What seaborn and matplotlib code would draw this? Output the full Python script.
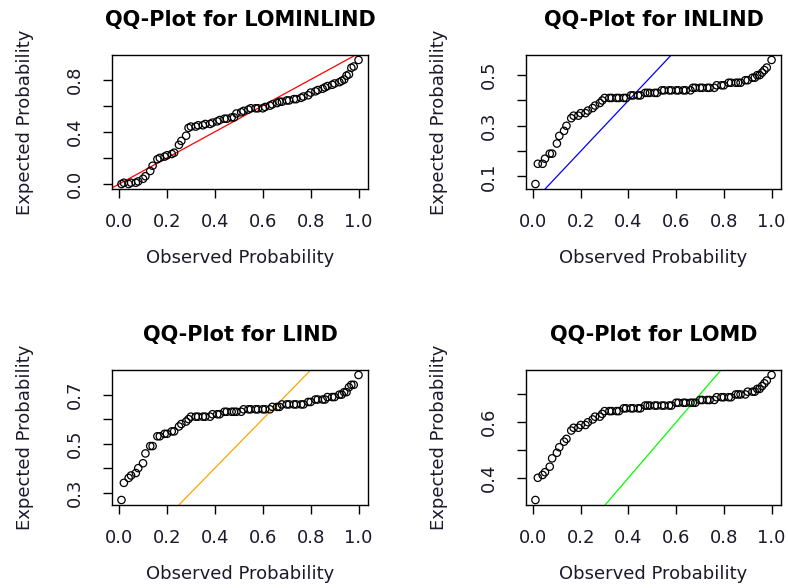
import numpy as np
import matplotlib
matplotlib.use("Agg")
import matplotlib.pyplot as plt
import seaborn as sns

# ── data ──────────────────────────────────────────────────
observed = [0.01, 0.02, 0.04, 0.05, 0.07, 0.08, 0.10, 0.11, 0.13, 0.14,
            0.16, 0.17, 0.19, 0.20, 0.22, 0.23, 0.25, 0.26, 0.28, 0.29,
            0.30, 0.32, 0.33, 0.35, 0.36, 0.38, 0.39, 0.41, 0.42, 0.44,
            0.45, 0.47, 0.48, 0.49, 0.51, 0.52, 0.54, 0.55, 0.57, 0.58,
            0.60, 0.61, 0.63, 0.64, 0.66, 0.67, 0.68, 0.70, 0.71, 0.73,
            0.74, 0.76, 0.77, 0.79, 0.80, 0.82, 0.83, 0.85, 0.86, 0.87,
            0.89, 0.90, 0.92, 0.93, 0.94, 0.95, 0.96, 0.97, 0.98, 1.00]

exp_lominlind = [0.00, 0.01, 0.00, 0.01, 0.01, 0.02, 0.04, 0.06, 0.10, 0.14,
                 0.19, 0.20, 0.21, 0.22, 0.23, 0.24, 0.30, 0.33, 0.37, 0.43,
                 0.44, 0.44, 0.45, 0.45, 0.46, 0.46, 0.47, 0.48, 0.49, 0.50,
                 0.50, 0.51, 0.51, 0.54, 0.55, 0.56, 0.57, 0.58, 0.58, 0.58,
                 0.58, 0.59, 0.60, 0.61, 0.62, 0.63, 0.63, 0.64, 0.64, 0.65,
                 0.65, 0.66, 0.67, 0.68, 0.70, 0.71, 0.72, 0.73, 0.74, 0.75,
                 0.76, 0.77, 0.78, 0.79, 0.80, 0.83, 0.84, 0.89, 0.90, 0.95]

exp_inlind = [0.07, 0.15, 0.15, 0.17, 0.19, 0.19, 0.23, 0.26, 0.28, 0.30,
              0.33, 0.34, 0.34, 0.35, 0.35, 0.36, 0.37, 0.38, 0.39, 0.40,
              0.41, 0.41, 0.41, 0.41, 0.41, 0.41, 0.41, 0.42, 0.42, 0.42,
              0.42, 0.43, 0.43, 0.43, 0.43, 0.43, 0.44, 0.44, 0.44, 0.44,
              0.44, 0.44, 0.44, 0.44, 0.44, 0.45, 0.45, 0.45, 0.45, 0.45,
              0.45, 0.45, 0.46, 0.46, 0.46, 0.47, 0.47, 0.47, 0.47, 0.47,
              0.48, 0.48, 0.49, 0.49, 0.50, 0.50, 0.51, 0.52, 0.53, 0.56]

exp_lind = [0.27, 0.34, 0.36, 0.37, 0.38, 0.40, 0.42, 0.46, 0.49, 0.49,
            0.53, 0.53, 0.54, 0.54, 0.55, 0.55, 0.57, 0.58, 0.59, 0.60,
            0.61, 0.61, 0.61, 0.61, 0.61, 0.61, 0.62, 0.62, 0.62, 0.63,
            0.63, 0.63, 0.63, 0.63, 0.63, 0.64, 0.64, 0.64, 0.64, 0.64,
            0.64, 0.64, 0.64, 0.65, 0.65, 0.65, 0.66, 0.66, 0.66, 0.66,
            0.66, 0.66, 0.66, 0.67, 0.67, 0.68, 0.68, 0.68, 0.68, 0.69,
            0.69, 0.69, 0.70, 0.70, 0.71, 0.71, 0.73, 0.74, 0.74, 0.78]

exp_lomd = [0.32, 0.40, 0.41, 0.42, 0.44, 0.47, 0.49, 0.51, 0.53, 0.54,
            0.57, 0.58, 0.58, 0.59, 0.59, 0.60, 0.61, 0.62, 0.62, 0.63,
            0.64, 0.64, 0.64, 0.64, 0.64, 0.65, 0.65, 0.65, 0.65, 0.65,
            0.65, 0.66, 0.66, 0.66, 0.66, 0.66, 0.66, 0.66, 0.66, 0.66,
            0.67, 0.67, 0.67, 0.67, 0.67, 0.67, 0.67, 0.68, 0.68, 0.68,
            0.68, 0.68, 0.69, 0.69, 0.69, 0.69, 0.69, 0.70, 0.70, 0.70,
            0.70, 0.71, 0.71, 0.71, 0.72, 0.72, 0.73, 0.74, 0.75, 0.77]

names = ["LOMINLIND", "INLIND", "LIND", "LOMD"]
line_colors = ["#FF0000", "#0000FF", "#FFA500", "#00FF00"]
x_ticks = [0.0, 0.2, 0.4, 0.6, 0.8, 1.0]
y_ticks = [[0.0, 0.2, 0.4, 0.6, 0.8],
           [0.1, 0.2, 0.3, 0.4, 0.5],
           [0.3, 0.4, 0.5, 0.6, 0.7],
           [0.4, 0.5, 0.6, 0.7]]
y_ticklabels = [["0.0", "", "0.4", "", "0.8"],
                ["0.1", "", "0.3", "", "0.5"],
                ["0.3", "", "0.5", "", "0.7"],
                ["0.4", "", "0.6", ""]]
expected = [exp_lominlind, exp_inlind, exp_lind, exp_lomd]

# ── style ─────────────────────────────────────────────────
sns.set_theme(style="ticks")
plt.rcParams.update({
    "font.family": ["DejaVu Sans"],
    "axes.edgecolor": "black",
    "axes.linewidth": 1.0,
    "xtick.color": "black",
    "ytick.color": "black",
    "xtick.major.size": 6.5,
    "ytick.major.size": 6.5,
    "xtick.major.width": 1.0,
    "ytick.major.width": 1.0,
})
TXT = "#1a1a2a"

W, H = 788, 588
fig = plt.figure(figsize=(W / 100, H / 100), dpi=100)
fig.patch.set_facecolor("white")

# axes boxes in pixels: left, top, right, bottom
boxes = [(112, 55, 368, 189), (526, 55, 781, 189),
         (112, 370, 368, 505), (526, 370, 781, 505)]

for i, (l, t, r, b) in enumerate(boxes):
    ax = fig.add_axes([l / W, 1 - b / H, (r - l) / W, (b - t) / H])
    xs = np.array(observed)
    ys = np.array(expected[i])

    sns.scatterplot(x=xs, y=ys, ax=ax, marker="o", s=28,
                    facecolors="none", edgecolor="black", linewidth=0.9,
                    zorder=3)
    ax.axline((0, 0), slope=1, color=line_colors[i], linewidth=0.9, zorder=2)

    # R-style 4% padding
    xr = xs.max() - xs.min()
    yr = ys.max() - ys.min()
    ax.set_xlim(xs.min() - 0.04 * xr, xs.max() + 0.04 * xr)
    ax.set_ylim(ys.min() - 0.04 * yr, ys.max() + 0.04 * yr)

    ax.set_xticks(x_ticks)
    ax.set_xticklabels([f"{v:.1f}" for v in x_ticks], fontsize=13, color=TXT)
    ax.set_yticks(y_ticks[i])
    ax.set_yticklabels(y_ticklabels[i], fontsize=13, color=TXT,
                       rotation=90, va="center")
    ax.tick_params(axis="x", pad=11)
    ax.tick_params(axis="y", pad=14)

    ax.set_xlabel("Observed Probability", fontsize=13, color=TXT,
                  labelpad=13)
    ax.set_ylabel("Expected Probability", fontsize=13, color=TXT,
                  labelpad=23)
    ax.set_title(f"QQ-Plot for {names[i]}", fontsize=15, fontweight="bold",
                 color="black", pad=21)
    for sp in ax.spines.values():
        sp.set_visible(True)
        sp.set_color("black")

fig.savefig("out.png", dpi=100, facecolor="white")
